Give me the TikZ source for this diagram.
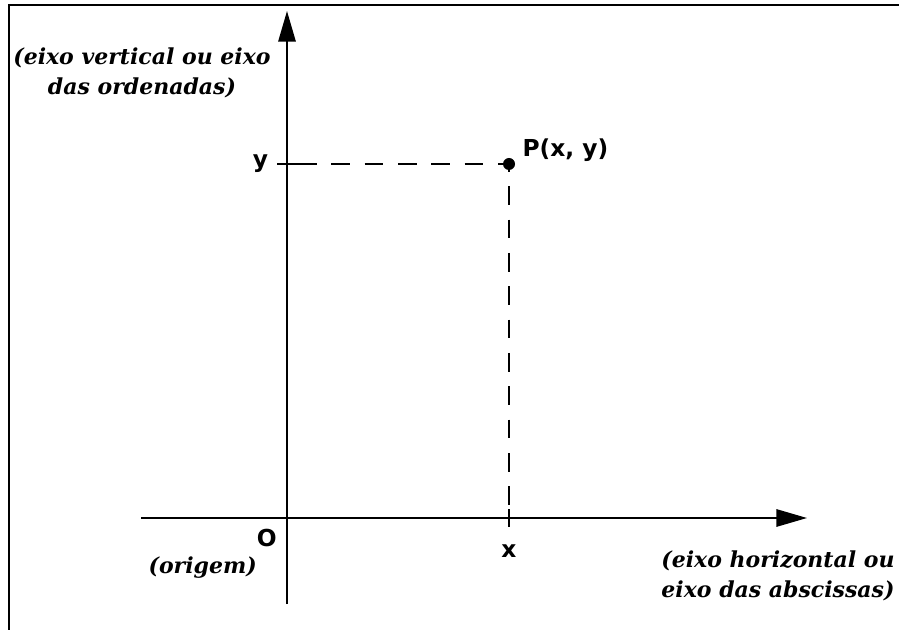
\documentclass[tikz,border=0pt]{standalone}
\usepackage{fontspec}
\setmainfont{DejaVu Serif}
\setsansfont{DejaVu Sans}
\usetikzlibrary{positioning, arrows.meta}

\begin{document}
\begin{tikzpicture}[
    x=0.75pt, y=-0.75pt,
    axis/.style={line width=1.5pt, -{Triangle[length=23pt, width=13pt]}},
    guide/.style={line width=1.4pt, dash pattern=on 14pt off 11pt},
    tickmark/.style={line width=1.5pt},
    coordlabel/.style={font=\sffamily\bfseries\fontsize{17.5}{20}\selectfont, inner sep=0pt},
    note/.style={font=\bfseries\itshape\fontsize{16.5}{23}\selectfont, align=center, inner sep=0pt}
]
\useasboundingbox (0,0) rectangle (899,630);
% frame
\draw[line width=1.8pt] (899,5) -- (9,5) -- (9,630);
% axes
\coordinate (O) at (287,518);
\coordinate (P) at (509,164);
\coordinate (xstart) at (141,518);
\coordinate (xend) at (807,518);
\coordinate (ystart) at (287,604);
\coordinate (yend) at (287,11);
\coordinate (xtick) at (O -| P);
\coordinate (ytick) at (O |- P);
\draw[axis] (xstart) -- (xend);
\draw[axis] (ystart) -- (yend);
\draw[tickmark] (xtick) ++(0,-9) -- ++(0,18);
\draw[tickmark] (ytick) ++(-10,0) -- ++(21,0);
% projections of P
\draw[guide] (ytick) ++(11,0) -- (P) -- (xtick);
\fill (P) circle[radius=4.5pt];
% labels
\node[coordlabel, above right=1.5pt and 10pt of P] (plab) {P(x, y)};
\node[coordlabel, left=14pt of ytick] (ylab) {y};
\node[coordlabel, below=20pt of xtick] (xlab) {x};
\node[coordlabel, below left=8pt and 7.5pt of O] (olab) {O};
\node[note, anchor=north east] (origem) at (257,557) {(origem)};
\node[note] (ynote) at (142,73) {(eixo vertical ou eixo\\das ordenadas)};
\node[note] (xnote) at (778,576) {(eixo horizontal ou\\eixo das abscissas)};
\end{tikzpicture}
\end{document}
